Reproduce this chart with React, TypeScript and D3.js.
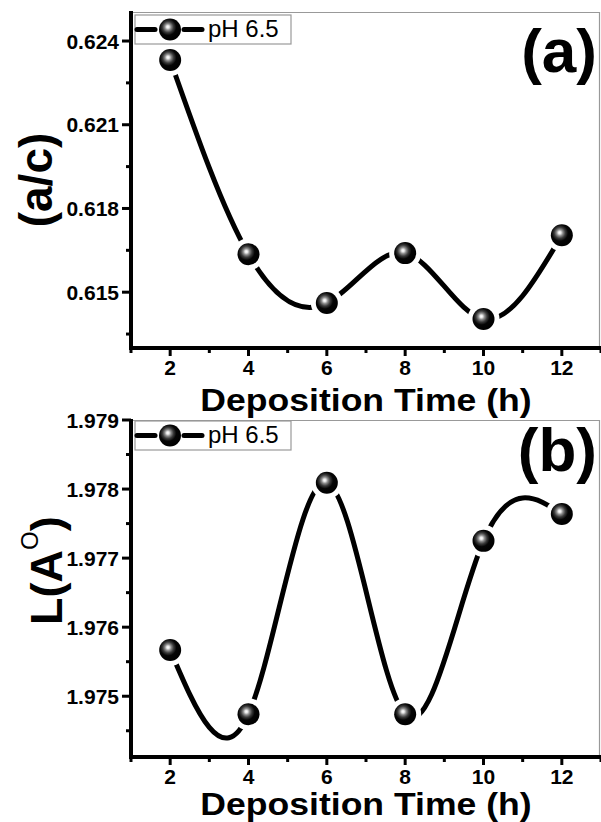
import React from 'react';
import * as d3 from 'd3';

const times = [2, 4, 6, 8, 10, 12];
const acRatio = [0.62332, 0.61636, 0.61461, 0.61640, 0.61404, 0.61704];
const lValues = [1.97567, 1.97474, 1.97809, 1.97474, 1.97725, 1.97764];
const xMajorTicks = [2, 4, 6, 8, 10, 12];
const xMinorTicks = [1, 3, 5, 7, 9, 11, 13];
const acMajorTicks = [0.615, 0.618, 0.621, 0.624];
const acMinorTicks = [0.6135, 0.6165, 0.6195, 0.6225];
const lMajorTicks = [1.975, 1.976, 1.977, 1.978, 1.979];
const lMinorTicks = [1.9745, 1.9755, 1.9765, 1.9775, 1.9785];
const legendLabel = 'pH 6.5';
const xTitle = 'Deposition Time (h)';

const FONT = '"Liberation Sans", Arial, Helvetica, sans-serif';
const LEFT = 131;
const RIGHT = 599.5;
const MR = 11;

interface PanelProps {
  id: string;
  top: number;
  bottom: number;
  yDomain: [number, number];
  values: number[];
  majorTicks: number[];
  minorTicks: number[];
  fmt: (v: number) => string;
  panelLabel: string;
  labelBaseline: number;
  titleBaseline: number;
  yTitle: React.ReactNode;
  legendY: number;
}

function Marker({ x, y }: { x: number; y: number }) {
  return <circle cx={x} cy={y} r={MR} fill="url(#sphere)" />;
}

function Panel(p: PanelProps) {
  const x = d3.scaleLinear().domain([1, 13]).range([LEFT, 601]);
  const y = d3.scaleLinear().domain(p.yDomain).range([p.bottom, p.top]);
  const pts: [number, number][] = times.map((t, i) => [x(t), y(p.values[i])]);
  const line = d3.line<[number, number]>().curve(d3.curveNatural)(pts) || '';
  const lx = 135, lw = 156, lh = 29;
  const ly = p.legendY;
  return (
    <g>
      <defs>
        <mask id={`m-${p.id}`} maskUnits="userSpaceOnUse" x={0} y={0} width={601} height={822}>
          <rect x={0} y={0} width={601} height={822} fill="#fff" />
          {pts.map((d, i) => (
            <circle key={i} cx={d[0]} cy={d[1]} r={16} fill="#000" />
          ))}
        </mask>
      </defs>
      <line x1={LEFT} x2={RIGHT} y1={p.top + 0.5} y2={p.top + 0.5} stroke="#999" strokeWidth={1.2} />
      <line x1={RIGHT} x2={RIGHT} y1={p.top} y2={p.bottom} stroke="#999" strokeWidth={1.2} />
      <rect x={lx} y={ly} width={lw} height={lh} fill="#fff" stroke="#999" strokeWidth={1.2} />
      <line x1={137} x2={155} y1={ly + lh / 2} y2={ly + lh / 2} stroke="#000" strokeWidth={5} strokeLinecap="round" />
      <line x1={184} x2={202} y1={ly + lh / 2} y2={ly + lh / 2} stroke="#000" strokeWidth={5} strokeLinecap="round" />
      <Marker x={170} y={ly + lh / 2} />
      <text x={208} y={ly + 22} fontFamily={FONT} fontSize={24} fill="#000">{legendLabel}</text>
      <path d={line} fill="none" stroke="#000" strokeWidth={5} strokeLinecap="round" mask={`url(#m-${p.id})`} />
      {pts.map((d, i) => (
        <Marker key={i} x={d[0]} y={d[1]} />
      ))}
      <line x1={LEFT} x2={LEFT} y1={p.top - 1} y2={p.bottom + 2} stroke="#000" strokeWidth={4} />
      <line x1={LEFT - 2} x2={601} y1={p.bottom} y2={p.bottom} stroke="#000" strokeWidth={4} />
      {p.majorTicks.map((t) => (
        <g key={t}>
          <line x1={LEFT - 9} x2={LEFT} y1={y(t)} y2={y(t)} stroke="#000" strokeWidth={3} />
          <text x={LEFT - 12} y={y(t)} dy="0.36em" textAnchor="end" fontFamily={FONT} fontWeight="bold" fontSize={21}>
            {p.fmt(t)}
          </text>
        </g>
      ))}
      {p.minorTicks.map((t) => (
        <line key={t} x1={LEFT - 5} x2={LEFT} y1={y(t)} y2={y(t)} stroke="#000" strokeWidth={3} />
      ))}
      {xMajorTicks.map((t) => (
        <g key={t}>
          <line x1={x(t)} x2={x(t)} y1={p.bottom} y2={p.bottom + 8} stroke="#000" strokeWidth={3} />
          <text x={x(t)} y={p.bottom + 27} textAnchor="middle" fontFamily={FONT} fontWeight="bold" fontSize={21}>
            {t}
          </text>
        </g>
      ))}
      {xMinorTicks.map((t) => (
        <line key={t} x1={x(t)} x2={x(t)} y1={p.bottom} y2={p.bottom + 5} stroke="#000" strokeWidth={3} />
      ))}
      <text transform={`translate(366,${p.titleBaseline}) scale(1.13,1)`} textAnchor="middle" fontFamily={FONT} fontWeight="bold" fontSize={31.5}>
        {xTitle}
      </text>
      <text x={597} y={p.labelBaseline} textAnchor="end" fontFamily={FONT} fontWeight="bold" fontSize={62}>
        {p.panelLabel}
      </text>
      {p.yTitle}
    </g>
  );
}

export default function App() {
  const fmt3 = d3.format('.3f');
  return (
    <svg width={601} height={822} style={{ position: 'absolute', left: 0, top: 0, background: '#fff' }}>
      <defs>
        <radialGradient id="sphere" cx="42%" cy="40%" r="60%" fx="40%" fy="38%">
          <stop offset="0%" stopColor="#ffffff" />
          <stop offset="10%" stopColor="#e8e8e8" />
          <stop offset="24%" stopColor="#8c8c8c" />
          <stop offset="42%" stopColor="#3a3a3a" />
          <stop offset="62%" stopColor="#050505" />
          <stop offset="100%" stopColor="#000000" />
        </radialGradient>
      </defs>
      <rect x={0} y={0} width={601} height={822} fill="#fff" />
      <Panel
        id="a"
        top={12}
        bottom={348}
        yDomain={[0.613, 0.62504]}
        values={acRatio}
        majorTicks={acMajorTicks}
        minorTicks={acMinorTicks}
        fmt={fmt3}
        panelLabel="(a)"
        labelBaseline={72}
        titleBaseline={411}
        legendY={15}
        yTitle={
          <text transform="translate(52,180) rotate(-90)" textAnchor="middle" fontFamily={FONT} fontWeight="bold" fontSize={46}>
            (a/c)
          </text>
        }
      />
      <Panel
        id="b"
        top={420}
        bottom={757}
        yDomain={[1.97412, 1.979]}
        values={lValues}
        majorTicks={lMajorTicks}
        minorTicks={lMinorTicks}
        fmt={fmt3}
        panelLabel="(b)"
        labelBaseline={471}
        titleBaseline={815}
        legendY={421}
        yTitle={
          <text transform="translate(62,625) rotate(-90)" fontFamily={FONT} fontWeight="bold" fontSize={45}>
            L(A<tspan fontSize={24} fontWeight="normal" dy={-24}>O</tspan><tspan dy={24}>)</tspan>
          </text>
        }
      />
    </svg>
  );
}
